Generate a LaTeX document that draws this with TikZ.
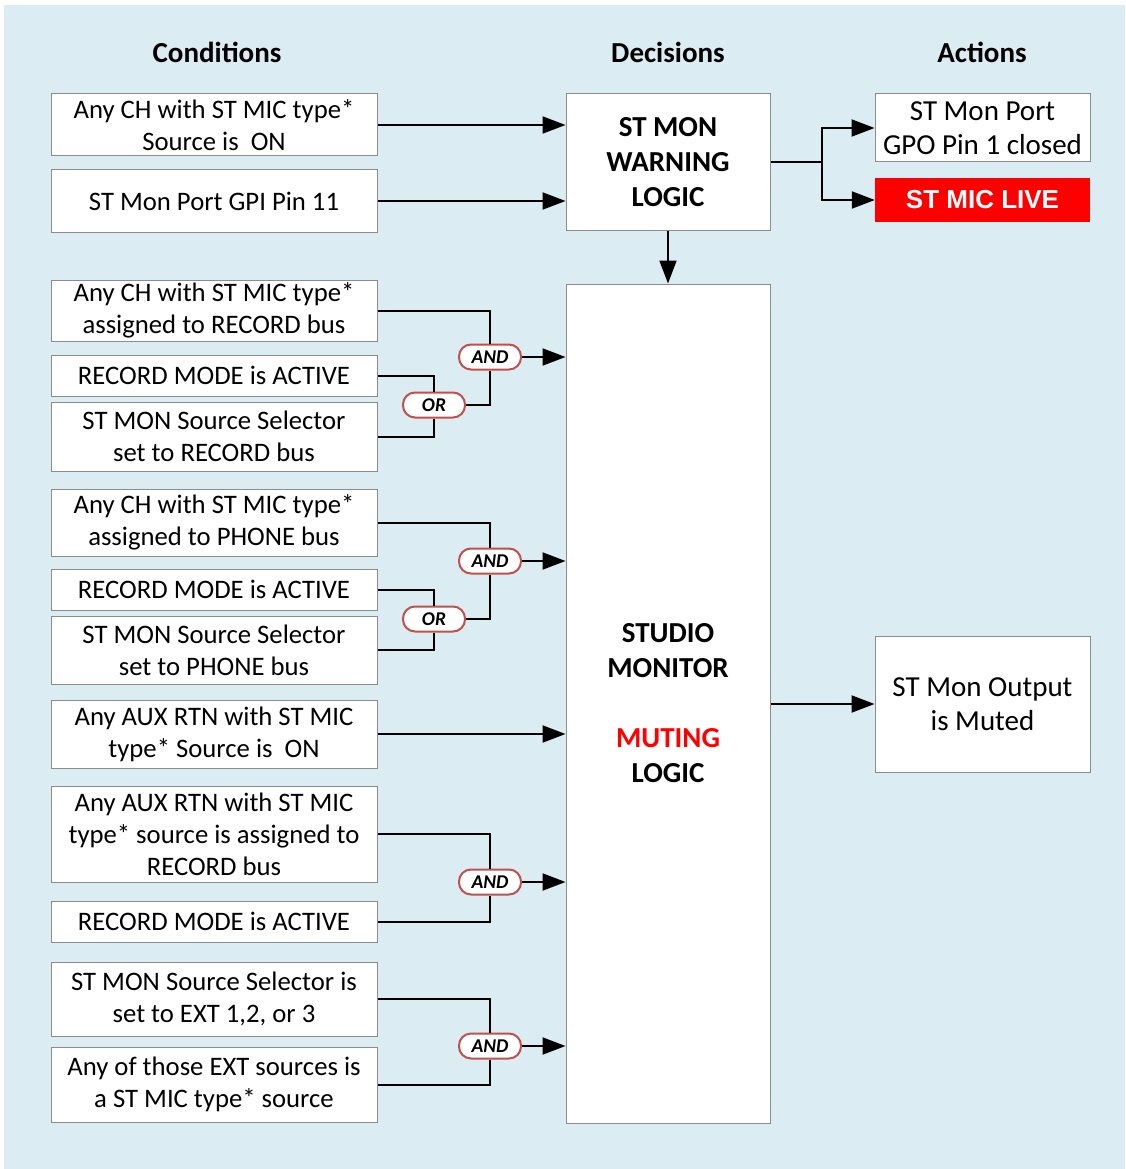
\documentclass[tikz,border=0pt]{standalone}
\usepackage{fontspec}
\setmainfont{Carlito}
\newfontfamily\livefont{Liberation Sans}
\usetikzlibrary{arrows.meta}
\definecolor{bgblue}{HTML}{DBECF2}
\definecolor{boxgray}{HTML}{8C8C8C}
\definecolor{gatered}{HTML}{C0504D}
\definecolor{livered}{HTML}{FF0000}
\tikzset{
  cond/.style={draw=boxgray, fill=white, line width=1pt, minimum width=326pt, inner sep=0pt, align=center, font=\fontsize{26.7}{32}\selectfont},
  decbox/.style={draw=boxgray, fill=white, line width=1pt, minimum width=204pt, inner sep=0pt, align=center, font=\bfseries\fontsize{29}{35}\selectfont},
  actbox/.style={draw=boxgray, fill=white, line width=1pt, minimum width=215pt, inner sep=0pt, align=center, font=\fontsize{29}{34}\selectfont},
  gate/.style={draw=gatered, fill=white, line width=2pt, rounded corners=12pt, minimum width=62pt, minimum height=25pt, inner sep=0pt, font=\bfseries\itshape\fontsize{19.5}{22}\selectfont},
  header/.style={font=\bfseries\fontsize{29}{34}\selectfont},
  wire/.style={line width=2pt, black},
  arr/.style={wire, -{Triangle[length=23pt,width=17pt]}},
}
\begin{document}
\begin{tikzpicture}[x=1pt,y=-1pt]
\useasboundingbox (0,0) rectangle (1125,1169);
\fill[bgblue] (4,5) rectangle (1125,1169);

\node[header] (hc) at (217,52) {Conditions};
\node[header] (hd) at (668,52) {Decisions};
\node[header] (ha) at (982,52) {Actions};

\node[cond, minimum height=62pt] (c1) at (214,125) {Any CH with ST MIC type*\\Source is\ \ ON};
\node[cond, minimum height=62pt] (c2) at (214,201) {ST Mon Port GPI Pin 11};
\node[cond, minimum height=61pt] (c3) at (214,310.5) {Any CH with ST MIC type*\\assigned to RECORD bus};
\node[cond, minimum height=41pt] (c4) at (214,375.5) {RECORD MODE is ACTIVE};
\node[cond, minimum height=69pt] (c5) at (214,436.5) {ST MON Source Selector\\set to RECORD bus};
\node[cond, minimum height=67pt] (c6) at (214,522.5) {Any CH with ST MIC type*\\assigned to PHONE bus};
\node[cond, minimum height=41pt] (c7) at (214,589.5) {RECORD MODE is ACTIVE};
\node[cond, minimum height=68pt] (c8) at (214,650) {ST MON Source Selector\\set to PHONE bus};
\node[cond, minimum height=68pt] (c9) at (214,734) {Any AUX RTN with ST MIC\\type* Source is\ \ ON};
\node[cond, minimum height=96pt] (c10) at (214,834) {Any AUX RTN with ST MIC\\type* source is assigned to\\RECORD bus};
\node[cond, minimum height=41pt] (c11) at (214,921.5) {RECORD MODE is ACTIVE};
\node[cond, minimum height=74pt] (c12) at (214,999) {ST MON Source Selector is\\set to EXT 1,2, or 3};
\node[cond, minimum height=75pt] (c13) at (214,1084.5) {Any of those EXT sources is\\a ST MIC type* source};

\node[decbox, minimum height=136pt] (warn) at (668,162) {ST MON\\WARNING\\LOGIC};
\node[decbox, minimum height=839pt] (studio) at (668,703.5) {STUDIO\\MONITOR\\[35pt]\textcolor{livered}{MUTING}\\LOGIC};

\node[actbox, minimum height=68pt] (a1) at (982.5,128) {ST Mon Port\\GPO Pin 1 closed};
\node[fill=livered, minimum width=215pt, minimum height=44pt, inner sep=0pt, text=white, font=\livefont\bfseries\fontsize{26}{30}\selectfont] (a2) at (982.5,200) {ST MIC LIVE};
\node[actbox, minimum height=136pt] (a3) at (982.5,704) {ST Mon Output\\is Muted};

\node[gate] (and1) at (490,357) {AND};
\node[gate] (or1) at (434,405) {OR};
\node[gate] (and2) at (490,561) {AND};
\node[gate] (or2) at (434,619) {OR};
\node[gate] (and3) at (490,882) {AND};
\node[gate] (and4) at (490,1046) {AND};

\coordinate (j) at (822,162);

% warning logic
\draw[arr] (c1.east) -- (c1.east -| warn.west);
\draw[arr] (c2.east) -- (c2.east -| warn.west);
\draw[wire] (warn.east) -- (j);
\draw[arr] (j) |- (a1.west);
\draw[arr] (j) |- (a2.west);
\draw[arr] (warn.south) -- (studio.north);

% group 1
\draw[wire] (c3.east) -| (and1.north);
\draw[wire] (c4.east) -| (or1.north);
\draw[wire] (c5.east) -| (or1.south);
\draw[wire] (or1.east) -| (and1.south);
\draw[arr] (and1.east) -- (and1.east -| studio.west);

% group 2
\draw[wire] (c6.east) -| (and2.north);
\draw[wire] (c7.east) -| (or2.north);
\draw[wire] (c8.east) -| (or2.south);
\draw[wire] (or2.east) -| (and2.south);
\draw[arr] (and2.east) -- (and2.east -| studio.west);

% direct
\draw[arr] (c9.east) -- (c9.east -| studio.west);

% group 3
\draw[wire] (c10.east) -| (and3.north);
\draw[wire] (c11.east) -| (and3.south);
\draw[arr] (and3.east) -- (and3.east -| studio.west);

% group 4
\draw[wire] (c12.east) -| (and4.north);
\draw[wire] (c13.east) -| (and4.south);
\draw[arr] (and4.east) -- (and4.east -| studio.west);

% output
\draw[arr] (a3.west -| studio.east) -- (a3.west);
\end{tikzpicture}
\end{document}
